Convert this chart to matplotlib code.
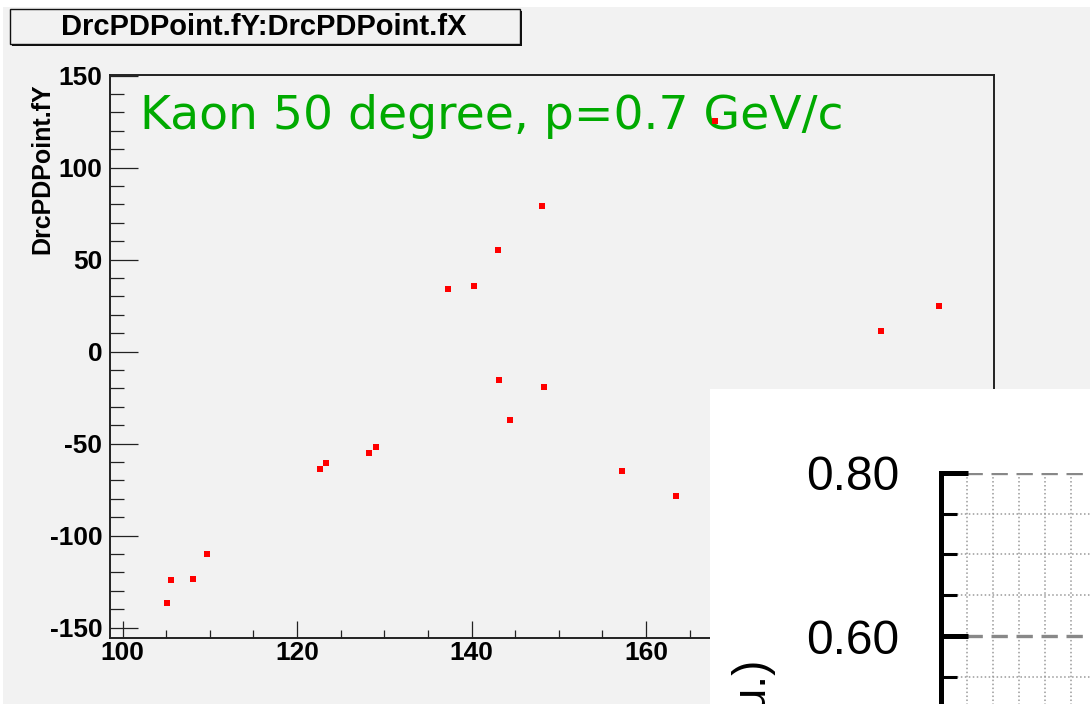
import numpy as np
import matplotlib
matplotlib.use("Agg")
import matplotlib.pyplot as plt
from matplotlib.patches import Rectangle
from matplotlib.ticker import MultipleLocator, FormatStrFormatter, NullLocator

plt.rcParams['axes.unicode_minus'] = False

# DrcPDPoint hits (x, y)
px = [105.1, 105.5, 108.1, 109.7, 122.6, 123.3, 128.2, 129.0, 137.3, 140.3,
      143.0, 143.2, 144.4, 148.1, 148.3, 157.2, 163.4, 167.9, 187.0, 193.6]
py = [-136.4, -124.3, -123.4, -109.9, -63.8, -60.5, -55.0, -51.7, 33.9, 35.5,
      55.0, -15.3, -37.1, 79.1, -19.3, -64.7, -78.6, 125.2, 11.4, 25.0]

title = "DrcPDPoint.fY:DrcPDPoint.fX"
ytitle = "DrcPDPoint.fY"
note = "Kaon 50 degree, p=0.7 GeV/c"

W, H = 1090, 704
bg = '#f2f2f2'
root_font = 'Liberation Sans'

fig = plt.figure(figsize=(W / 100, H / 100), dpi=100, facecolor='white')

def fx(p):
    return p / W

def fy(p):
    return 1 - p / H

# canvas
fig.add_artist(Rectangle((fx(3), 0), 1, fy(7), transform=fig.transFigure,
                         facecolor=bg, edgecolor='none', zorder=-2))

# title box with shadow
fig.add_artist(Rectangle((fx(12), fy(46)), fx(510), (44 - 9) / H, transform=fig.transFigure,
                         facecolor='#111111', edgecolor='none', zorder=-1))
fig.add_artist(Rectangle((fx(10), fy(44)), fx(510), (44 - 9) / H, transform=fig.transFigure,
                         facecolor=bg, edgecolor='#111111', lw=1.0, zorder=-1))
fig.text(fx(264), fy(27), title, ha='center', va='center', fontsize=21,
         fontweight='bold', family=root_font, zorder=1)

# main scatter
ax = fig.add_axes([fx(110), fy(638), (994 - 110) / W, (638 - 75) / H], zorder=0)
ax.set_facecolor(bg)
ax.plot(px, py, ls='none', marker='s', ms=3.8, mfc='red', mec='red', mew=0, zorder=4)
ax.set_xlim(98.55, 199.9)
ax.set_ylim(-155.6, 150.3)
ax.xaxis.set_major_locator(MultipleLocator(20))
ax.xaxis.set_minor_locator(MultipleLocator(5))
ax.yaxis.set_major_locator(MultipleLocator(50))
ax.yaxis.set_minor_locator(MultipleLocator(10))
ax.tick_params(axis='both', which='both', direction='in', colors='#222222', width=0.9,
               labelcolor='black')
ax.tick_params(axis='x', which='major', length=12.2, pad=2)
ax.tick_params(axis='x', which='minor', length=6)
ax.tick_params(axis='y', which='major', length=20, pad=5.5)
ax.tick_params(axis='y', which='minor', length=10)
for lab in ax.get_xticklabels() + ax.get_yticklabels():
    lab.set_fontsize(19)
    lab.set_fontweight('bold')
    lab.set_family(root_font)
for s in ax.spines.values():
    s.set_color('#222222')
    s.set_linewidth(1.4)

fig.text(fx(42), fy(83), ytitle, rotation=90, ha='center', va='top', fontsize=18,
         fontweight='bold', family=root_font)

ax.text((140 - 110) / 884, (638 - 129) / 563, note, transform=ax.transAxes,
        ha='left', va='baseline', fontsize=34, color='#00aa00', zorder=3)

# white panel with the second plot's corner
fig.add_artist(Rectangle((fx(710), 0), 1, (704 - 389) / H, transform=fig.transFigure,
                         facecolor='white', edgecolor='none', zorder=2))

ins = fig.add_axes([fx(941), (704 - 717.7) / H, (1100 - 941) / W, 245 / H], zorder=3)
ins.set_facecolor('white')
ins.set_ylim(0.5, 0.8)
ins.set_xlim(0, 159 / 26)
ins.yaxis.set_major_locator(MultipleLocator(0.2))
ins.yaxis.set_minor_locator(MultipleLocator(0.05))
ins.yaxis.set_major_formatter(FormatStrFormatter('%.2f'))
ins.xaxis.set_major_locator(NullLocator())
ins.xaxis.set_minor_locator(MultipleLocator(1))
ins.tick_params(axis='x', which='both', length=0, labelbottom=False)
ins.tick_params(axis='y', which='major', direction='in', length=19.5, width=3.6, pad=30,
                labelsize=34.5)
ins.tick_params(axis='y', which='minor', direction='in', length=11.5, width=2.2)
for lab in ins.get_yticklabels():
    lab.set_family(root_font)
for side in ['top', 'right', 'bottom']:
    ins.spines[side].set_visible(False)
ins.spines['left'].set_linewidth(3.6)
ins.spines['left'].set_color('black')
ins.grid(which='minor', axis='both', color='#9a9a9a', linestyle=(0, (1, 1.6)), lw=1.1)
ins.grid(which='major', axis='y', color='#888888', linestyle=(0, (4.9, 2.6)), lw=2.4)

fig.text(fx(751), fy(657), "(a.u.)", rotation=90, ha='center', va='top',
         fontsize=33, family=root_font, zorder=4)

fig.savefig("out.png", dpi=100)
